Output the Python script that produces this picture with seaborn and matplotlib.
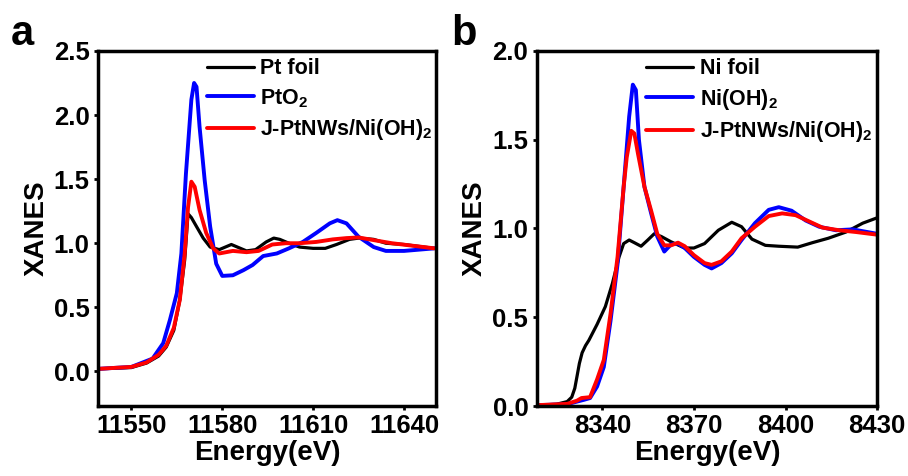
import numpy as np
import pandas as pd
import seaborn as sns
import matplotlib.pyplot as plt

# ---- panel a: Pt L3-edge ----
pt_foil_e = [11539, 11550, 11555, 11559, 11561.5, 11564, 11566, 11567.6, 11568.7, 11569.8,
             11571.5, 11573.7, 11576, 11579, 11583, 11586, 11588, 11591, 11594.5, 11597,
             11599, 11602, 11605.5, 11610, 11614, 11617.7, 11622, 11625, 11630, 11634,
             11640, 11650]
pt_foil_y = [0.02, 0.03, 0.065, 0.12, 0.19, 0.32, 0.56, 0.87, 1.23, 1.2,
             1.13, 1.04, 0.97, 0.95, 0.99, 0.96, 0.94, 0.95, 1.01, 1.04,
             1.03, 1.0, 0.97, 0.96, 0.96, 0.99, 1.03, 1.04, 1.03, 1.0,
             0.99, 0.96]

pto2_e = [11539, 11550, 11557, 11560.5, 11562.7, 11565, 11566.5, 11568, 11569.8, 11570.7,
          11571.5, 11572.5, 11574.2, 11576, 11578, 11580, 11583.5, 11587, 11590, 11593.5,
          11598, 11602, 11606.6, 11611, 11615.5, 11618, 11621, 11625, 11630, 11634,
          11640, 11650]
pto2_y = [0.02, 0.035, 0.10, 0.22, 0.40, 0.61, 0.92, 1.54, 2.12, 2.25,
          2.22, 1.91, 1.49, 1.13, 0.84, 0.745, 0.75, 0.79, 0.83, 0.90,
          0.92, 0.96, 1.01, 1.08, 1.155, 1.18, 1.155, 1.05, 0.97, 0.94,
          0.94, 0.96]

jpt_a_e = [11539, 11550, 11555, 11559, 11561.5, 11564, 11566, 11567.6, 11568.7, 11569.8,
           11570.9, 11572.5, 11574.7, 11577, 11579, 11583.5, 11588, 11592, 11596.5, 11601,
           11605.5, 11611, 11616.5, 11621, 11625, 11631, 11636, 11643, 11650]
jpt_a_y = [0.02, 0.035, 0.07, 0.13, 0.20, 0.34, 0.56, 0.92, 1.28, 1.48,
           1.44, 1.26, 1.08, 0.96, 0.92, 0.94, 0.93, 0.94, 0.99, 1.0,
           1.0, 1.01, 1.03, 1.04, 1.045, 1.02, 1.0, 0.98, 0.96]

# ---- panel b: Ni K-edge ----
ni_foil_e = [8318.8, 8325, 8328.5, 8330, 8331, 8331.7, 8332.5, 8333.4, 8334.5, 8335.6,
             8338.3, 8341, 8343.3, 8345.5, 8347, 8348.8, 8350.5, 8352.7, 8354.9, 8357,
             8359.3, 8362.5, 8367, 8370, 8373.5, 8378, 8382.4, 8385.6, 8389, 8393.4,
             8397.8, 8404, 8408.8, 8414, 8419.8, 8425.3, 8430]
ni_foil_y = [0.005, 0.01, 0.025, 0.05, 0.10, 0.165, 0.24, 0.30, 0.34, 0.37,
             0.46, 0.56, 0.69, 0.84, 0.915, 0.935, 0.92, 0.90, 0.935, 0.97,
             0.955, 0.925, 0.89, 0.89, 0.915, 0.99, 1.035, 1.01, 0.94, 0.905,
             0.90, 0.895, 0.92, 0.945, 0.98, 1.03, 1.06]

nioh_e = [8318.8, 8328.5, 8331.7, 8334, 8336, 8338.3, 8340.5, 8342.7, 8345, 8347,
          8348.8, 8350, 8351, 8352, 8353.8, 8356, 8358, 8360.3, 8362.5, 8364.8,
          8367, 8370, 8373.5, 8375.8, 8379, 8382.4, 8385.6, 8390, 8394.5, 8397.8,
          8402, 8406.6, 8411, 8416.5, 8422, 8430]
nioh_y = [0.005, 0.01, 0.025, 0.035, 0.045, 0.11, 0.22, 0.48, 0.80, 1.235,
          1.63, 1.81, 1.78, 1.50, 1.235, 1.085, 0.955, 0.87, 0.91, 0.915,
          0.89, 0.84, 0.795, 0.775, 0.805, 0.86, 0.935, 1.03, 1.105, 1.12,
          1.10, 1.045, 1.01, 0.99, 0.995, 0.97]

jpt_b_e = [8318.8, 8328.5, 8331.7, 8333.2, 8336, 8338.3, 8340.5, 8342.7, 8345, 8347,
           8348, 8349.5, 8350.5, 8351.7, 8353.8, 8356, 8358, 8360.3, 8362.5, 8364.8,
           8367, 8370, 8373.5, 8375.8, 8379, 8382.4, 8385.6, 8390, 8394.5, 8398.9,
           8403.3, 8407.7, 8412.1, 8417.6, 8423.1, 8430]
jpt_b_y = [0.005, 0.012, 0.03, 0.045, 0.05, 0.15, 0.26, 0.52, 0.84, 1.235,
           1.40, 1.55, 1.535, 1.42, 1.235, 1.10, 0.97, 0.905, 0.905, 0.92,
           0.90, 0.85, 0.805, 0.795, 0.815, 0.87, 0.945, 1.01, 1.07, 1.085,
           1.075, 1.04, 1.005, 0.99, 0.98, 0.965]

sns.set_style("ticks")
plt.rcParams['font.family'] = ['Liberation Sans', 'DejaVu Sans']
plt.rcParams['font.weight'] = 'bold'
plt.rcParams['text.color'] = 'black'
plt.rcParams['axes.labelcolor'] = 'black'
plt.rcParams['xtick.color'] = 'black'
plt.rcParams['ytick.color'] = 'black'
plt.rcParams['axes.edgecolor'] = 'black'
plt.rcParams['mathtext.fontset'] = 'custom'
plt.rcParams['mathtext.rm'] = 'Liberation Sans:bold'
plt.rcParams['mathtext.bf'] = 'Liberation Sans:bold'
plt.rcParams['mathtext.default'] = 'bf'

fig = plt.figure(figsize=(9.08, 4.76), dpi=100)
ax_a = fig.add_axes([0.108, 0.147, 0.372, 0.746])
ax_b = fig.add_axes([0.591, 0.147, 0.375, 0.746])


def draw(ax, series, xlim, ylim, yticks, xticks):
    for e, y, col, lab, lw in series:
        df = pd.DataFrame({'E': e, 'y': y})
        sns.lineplot(data=df, x='E', y='y', ax=ax, color=col, lw=lw, label=lab, sort=False)
    ax.set_xlim(*xlim)
    ax.set_ylim(*ylim)
    ax.set_xticks(xticks)
    ax.set_yticks(yticks)
    ax.set_yticklabels([f"{v:.1f}" for v in yticks])
    ax.set_xlabel("Energy(eV)", fontsize=20, fontweight='bold', labelpad=1)
    ax.set_ylabel("XANES", fontsize=20, fontweight='bold', labelpad=3)
    for s in ax.spines.values():
        s.set_linewidth(2.5)
        s.set_visible(True)
        s.set_color('black')
    ax.tick_params(axis='both', direction='out', length=3, width=2, labelsize=18.5, pad=3,
                   colors='black')
    for t in ax.get_xticklabels() + ax.get_yticklabels():
        t.set_fontweight('bold')
    ax.legend(loc='upper left', bbox_to_anchor=(0.315, 0.985), frameon=False,
              handlelength=2.2, handletextpad=0.3, labelspacing=0.35, borderpad=0.1,
              borderaxespad=0, prop={'weight': 'bold', 'size': 15.5})


draw(ax_a,
     [(pt_foil_e, pt_foil_y, 'black', 'Pt foil', 2.3),
      (pto2_e, pto2_y, '#0000ff', r'PtO$_2$', 2.8),
      (jpt_a_e, jpt_a_y, '#ff0000', r'J-PtNWs/Ni(OH)$_2$', 2.8)],
     (11539, 11650.5), (-0.27, 2.5), [0.0, 0.5, 1.0, 1.5, 2.0, 2.5],
     [11550, 11580, 11610, 11640])

draw(ax_b,
     [(ni_foil_e, ni_foil_y, 'black', 'Ni foil', 2.3),
      (nioh_e, nioh_y, '#0000ff', r'Ni(OH)$_2$', 2.8),
      (jpt_b_e, jpt_b_y, '#ff0000', r'J-PtNWs/Ni(OH)$_2$', 2.8)],
     (8318.5, 8430), (0.0, 2.0), [0.0, 0.5, 1.0, 1.5, 2.0],
     [8340, 8370, 8400, 8430])

fig.text(0.012, 0.905, "a", fontsize=30, fontweight='bold')
fig.text(0.497, 0.905, "b", fontsize=30, fontweight='bold')

fig.savefig("out.png", dpi=100)
